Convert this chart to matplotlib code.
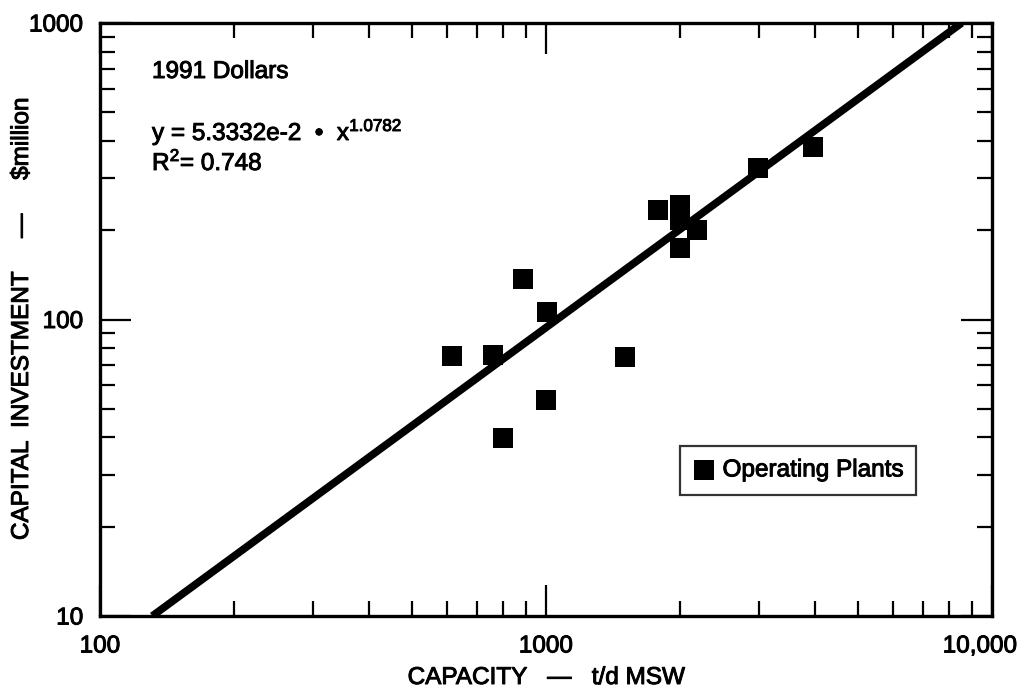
import numpy as np
import matplotlib
matplotlib.use("Agg")
import matplotlib.pyplot as plt
import matplotlib.patheffects as pe
import matplotlib.transforms as mtransforms
from matplotlib.ticker import FixedLocator, FixedFormatter, LogLocator, NullFormatter

plt.rcParams['font.family'] = ['Liberation Sans', 'DejaVu Sans']
plt.rcParams['mathtext.fontset'] = 'custom'
plt.rcParams['mathtext.rm'] = 'Liberation Sans'
plt.rcParams['mathtext.it'] = 'Liberation Sans'
plt.rcParams['mathtext.bf'] = 'Liberation Sans:bold'

# Data
capacity = [615, 760, 888, 1005, 1000, 800, 1505, 1786, 2000, 2000, 2000, 2184, 2994, 3960]
investment = [75.4, 76, 137, 106, 53.5, 39.8, 75, 234, 243, 216, 174, 201, 324, 382]

# fitted power-law line, end points
fit_x = [131, 8550]
fit_y = [10, 1000]

x_ticks = [100, 1000, 10000]
x_ticklabels = ["100", "1000", "10,000"]
y_ticks = [10, 100, 1000]
y_ticklabels = ["10", "100", "1000"]

FS = 17.5
heavy = [pe.withStroke(linewidth=0.7, foreground='black')]

fig = plt.figure(figsize=(10.27, 6.89), dpi=100)
ax = fig.add_axes([100/1027, 1 - 616/689, (992-100)/1027, (616-23)/689])
ax.set_xscale('log')
ax.set_yscale('log')
ax.set_xlim(100, 10000)
ax.set_ylim(10, 1000)

ax.plot(fit_x, fit_y, color='black', lw=5.5, solid_capstyle='butt', zorder=2)

ax.scatter(capacity, investment, marker='s', s=14.5**2, color='black', zorder=3,
           linewidths=0, label='Operating Plants')

ax.xaxis.set_major_locator(FixedLocator(x_ticks))
ax.xaxis.set_major_formatter(FixedFormatter(x_ticklabels))
ax.yaxis.set_major_locator(FixedLocator(y_ticks))
ax.yaxis.set_major_formatter(FixedFormatter(y_ticklabels))
ax.xaxis.set_minor_locator(LogLocator(base=10, subs=np.arange(2, 10)))
ax.yaxis.set_minor_locator(LogLocator(base=10, subs=np.arange(2, 10)))
ax.xaxis.set_minor_formatter(NullFormatter())
ax.yaxis.set_minor_formatter(NullFormatter())

ax.tick_params(which='both', direction='in', top=True, right=True, width=1.6, color='black')
ax.tick_params(which='major', length=22, labelsize=FS)
ax.tick_params(axis='x', which='major', pad=14)
ax.tick_params(axis='y', which='major', pad=12)
ax.tick_params(which='minor', length=11)
for s in ax.spines.values():
    s.set_linewidth(2.4)
for lab in ax.get_xticklabels() + ax.get_yticklabels():
    lab.set_path_effects(heavy)

# keep the right-most x tick label inside the figure
fig.canvas.draw()
last = ax.get_xticklabels()[-1]
last.set_transform(last.get_transform() +
                   mtransforms.ScaledTranslation(-12 / 100, 0, fig.dpi_scale_trans))

xl = ax.set_xlabel("CAPACITY   —   t/d MSW", fontsize=FS, va='top')
ax.xaxis.set_label_coords(0.5, -(667 - 616) / 593)
yl = ax.set_ylabel("CAPITAL  INVESTMENT     —     $million", fontsize=FS)
ax.yaxis.set_label_coords(-(100 - 33) / 892, 0.5)
xl.set_path_effects(heavy)
yl.set_path_effects(heavy)

tx = (152 - 100) / 892
for txt, ybase in [("1991 Dollars", 78),
                   ("y = 5.3332e-2  \u2022  x$^{1.0782}$", 140),
                   ("R$^{2}$= 0.748", 170)]:
    t = ax.text(tx, 1 - (ybase - 23) / 593, txt, transform=ax.transAxes,
                fontsize=FS, va='baseline', ha='left')
    t.set_path_effects(heavy)

leg = ax.legend(loc='upper left', bbox_to_anchor=((680 - 100) / 892, 1 - (446 - 23) / 593),
                frameon=True, fancybox=False, edgecolor='black', fontsize=FS,
                handletextpad=0.3, borderpad=0.55, markerscale=0.95, handlelength=0.9,
                borderaxespad=0)
leg.get_frame().set_linewidth(1.6)
for t in leg.get_texts():
    t.set_path_effects(heavy)

fig.savefig("out.png", dpi=100)
